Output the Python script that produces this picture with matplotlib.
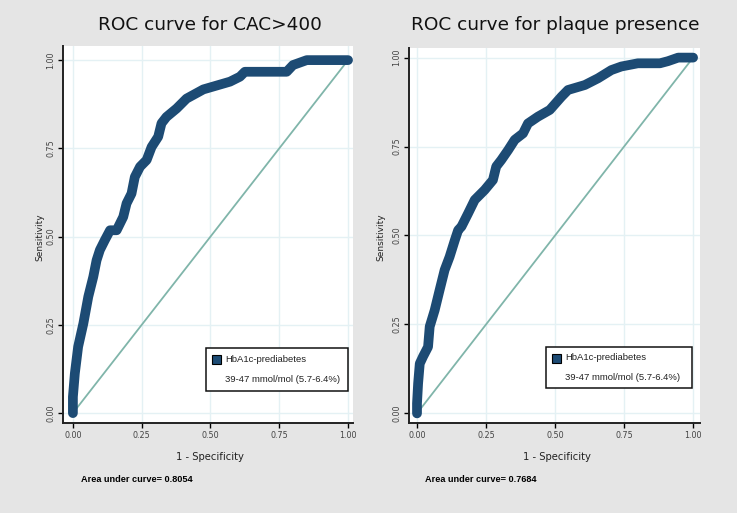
import matplotlib.pyplot as plt
from matplotlib.patches import Rectangle

W, H = 737, 513
BG = '#e5e5e5'
CURVE = '#1d4b74'
DIAG = '#80b5aa'
GRID = '#e4f1f4'

TICKS = [0.0, 0.25, 0.5, 0.75, 1.0]
TICK_LABELS = ['0.00', '0.25', '0.50', '0.75', '1.00']

# ROC for CAC>400 (1 - specificity, sensitivity)
fpr_cac = [0.0, 0.0, 0.007, 0.019, 0.038, 0.056, 0.074, 0.086, 0.098, 0.116,
           0.135, 0.159, 0.183, 0.195, 0.213, 0.225, 0.244, 0.268, 0.286, 0.31,
           0.322, 0.34, 0.377, 0.413, 0.474, 0.571, 0.607, 0.625, 0.777, 0.80,
           0.85, 1.0]
tpr_cac = [0.0, 0.046, 0.112, 0.188, 0.254, 0.33, 0.386, 0.433, 0.462, 0.49,
           0.518, 0.518, 0.556, 0.594, 0.622, 0.669, 0.698, 0.717, 0.754, 0.783,
           0.821, 0.839, 0.863, 0.891, 0.917, 0.939, 0.953, 0.967, 0.967, 0.986,
           1.0, 1.0]

# ROC for plaque presence
fpr_plq = [0.0, 0.0, 0.004, 0.01, 0.022, 0.04, 0.046, 0.064, 0.082, 0.10,
           0.118, 0.137, 0.149, 0.161, 0.185, 0.209, 0.245, 0.275, 0.287, 0.305,
           0.33, 0.354, 0.384, 0.402, 0.438, 0.481, 0.523, 0.547, 0.608, 0.656,
           0.704, 0.74, 0.80, 0.88, 0.909, 0.946, 1.0]
tpr_plq = [0.0, 0.028, 0.084, 0.14, 0.16, 0.187, 0.244, 0.29, 0.347, 0.403,
           0.44, 0.487, 0.515, 0.525, 0.562, 0.60, 0.628, 0.656, 0.694, 0.712,
           0.74, 0.769, 0.787, 0.815, 0.834, 0.853, 0.89, 0.909, 0.923, 0.942,
           0.965, 0.975, 0.984, 0.984, 0.99, 1.0, 1.0]

TITLES = ['ROC curve for CAC>400', 'ROC curve for plaque presence']
AUCS = ['0.8054', '0.7684']
LEGEND_1 = 'HbA1c-prediabetes'
LEGEND_2 = '39-47 mmol/mol (5.7-6.4%)'


def fx(x):
    return x / W


def fy(y):
    return 1 - y / H


fig = plt.figure(figsize=(W / 100, H / 100), dpi=100, facecolor=BG)

# panel layout in pixels: axes box, xlim, ylim, title centre, legend box
panels = [
    dict(box=(63, 46, 353, 423), xlim=(-0.036, 1.018), ylim=(-0.028, 1.04),
         tx=210, lab_x=40, leg=(206, 348, 348, 391), auc_x=81,
         fpr=fpr_cac, tpr=tpr_cac),
    dict(box=(409, 48, 700, 423), xlim=(-0.029, 1.025), ylim=(-0.027, 1.027),
         tx=555, lab_x=381, leg=(546, 347, 692, 388), auc_x=425,
         fpr=fpr_plq, tpr=tpr_plq),
]

for i, p in enumerate(panels):
    x0, y0, x1, y1 = p['box']
    ax = fig.add_axes([fx(x0), fy(y1), (x1 - x0) / W, (y1 - y0) / H])
    ax.set_facecolor('white')
    ax.set_xlim(*p['xlim'])
    ax.set_ylim(*p['ylim'])

    ax.set_xticks(TICKS)
    ax.set_xticklabels(TICK_LABELS)
    ax.set_yticks(TICKS)
    ax.set_yticklabels(TICK_LABELS, rotation=90, va='center')
    ax.tick_params(labelsize=5.8, labelcolor='#444444', length=3.5, width=1,
                   color='black', pad=2)
    ax.grid(True, color=GRID, lw=1)
    ax.set_axisbelow(True)

    for s in ['top', 'right']:
        ax.spines[s].set_visible(False)
    for s in ['left', 'bottom']:
        ax.spines[s].set_linewidth(1.4)
        ax.spines[s].set_color('#222222')

    ax.plot([0, 1], [0, 1], color=DIAG, lw=1.3, zorder=2)
    ax.plot(p['fpr'], p['tpr'], color=CURVE, lw=7, solid_capstyle='round',
            solid_joinstyle='round', zorder=3)

    # titles and labels
    fig.text(fx(p['tx']), fy(25), TITLES[i], fontsize=13.3, ha='center',
             va='center', color='#111111')
    fig.text(fx(p['lab_x']), fy(237), 'Sensitivity', fontsize=6.5,
             rotation=90, ha='center', va='center', color='#222222')
    fig.text(fx((x0 + x1) / 2 + 2), fy(457), '1 - Specificity', fontsize=7.2,
             ha='center', va='center', color='#222222')
    fig.text(fx(p['auc_x']), fy(480), 'Area under curve= ' + AUCS[i],
             fontsize=6.6, fontweight='bold', family='Liberation Sans',
             ha='left', va='center', color='black')

    # legend box
    lx0, ly0, lx1, ly1 = p['leg']
    fig.patches.append(Rectangle((fx(lx0), fy(ly1)), (lx1 - lx0) / W,
                                 (ly1 - ly0) / H, transform=fig.transFigure,
                                 facecolor='white', edgecolor='#111111',
                                 lw=1.1, zorder=5))
    fig.patches.append(Rectangle((fx(lx0 + 6), fy(ly0 + 16)), 9 / W, 9 / H,
                                 transform=fig.transFigure, facecolor=CURVE,
                                 edgecolor='black', lw=0.8, zorder=6))
    fig.text(fx(lx0 + 19), fy(ly0 + 11), LEGEND_1, fontsize=6.8,
             family='Liberation Sans', ha='left', va='center', zorder=7,
             color='#222222')
    fig.text(fx(lx0 + 19), fy(ly0 + 31), LEGEND_2, fontsize=6.8,
             family='Liberation Sans', ha='left', va='center', zorder=7,
             color='#222222')

plt.savefig('out.png', dpi=100, facecolor=BG)
